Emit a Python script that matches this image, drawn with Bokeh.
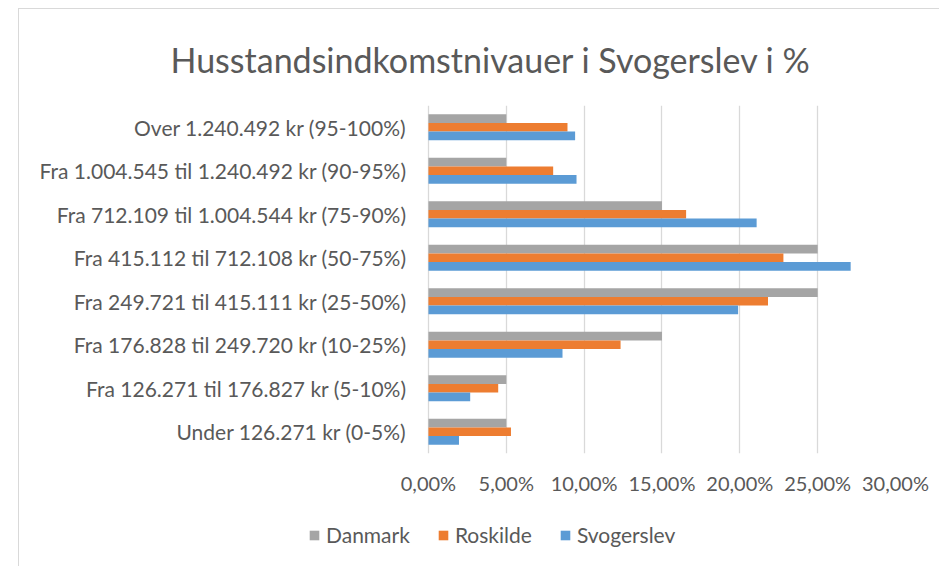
from bokeh.plotting import figure
from bokeh.models import (ColumnDataSource, FactorRange, Range1d, FixedTicker,
                          Legend, LegendItem)
from bokeh.core.properties import value
from bokeh.layouts import column
from bokeh.transform import dodge
from bokeh.embed import file_html
from bokeh.resources import INLINE

title_text = "Husstandsindkomstnivauer  i Svogerslev i %"
categories = [
    "Over 1.240.492 kr (95-100%)",
    "Fra 1.004.545 til 1.240.492 kr (90-95%)",
    "Fra 712.109 til 1.004.544 kr (75-90%)",
    "Fra 415.112 til 712.108 kr (50-75%)",
    "Fra 249.721 til 415.111 kr (25-50%)",
    "Fra 176.828 til 249.720 kr (10-25%)",
    "Fra 126.271 til 176.827 kr (5-10%)",
    "Under 126.271 kr (0-5%)",
]
danmark = [5.0, 5.0, 15.0, 25.0, 25.0, 15.0, 5.0, 5.0]
roskilde = [8.93, 8.01, 16.55, 22.80, 21.81, 12.34, 4.48, 5.30]
svogerslev = [9.42, 9.51, 21.08, 27.12, 19.89, 8.61, 2.68, 1.96]
series_names = ["Danmark", "Roskilde", "Svogerslev"]
series_cols = ["danmark", "roskilde", "svogerslev"]
tick_values = [0, 5, 10, 15, 20, 25, 30]
tick_labels = ["0,00%", "5,00%", "10,00%", "15,00%", "20,00%", "25,00%", "30,00%"]

FONT = "Lato"
TXT = "#595959"
colors = ["#A5A5A5", "#ED7D31", "#5B9BD5"]

source = ColumnDataSource(dict(cat=categories, zero=[0] * len(categories),
                               danmark=danmark, roskilde=roskilde,
                               svogerslev=svogerslev))

# frame spans the full chart width; the value axis starts at 0 at the
# position of the category label column's right side
p = figure(width=920, height=500, output_backend="svg", toolbar_location=None,
           y_range=FactorRange(factors=list(reversed(categories))),
           x_range=Range1d(-26.27, 30),
           y_axis_location=None,
           min_border_left=0, min_border_right=44,
           min_border_top=96, min_border_bottom=56)
p.outline_line_color = None
p.background_fill_color = "white"
p.border_fill_color = "white"

p.title.text = title_text
p.title.align = "left"
p.title.offset = 151
p.title.standoff = 52
p.title.text_font = FONT
p.title.text_font_size = "34px"
p.title.text_font_style = "normal"
p.title.text_color = TXT

for col, off, color in zip(series_cols, [0.2, 0.0, -0.2], colors):
    p.hbar(y=dodge("cat", off, range=p.y_range), right=col, left=0,
           height=0.2, source=source, fill_color=color, line_color=None)

# category labels, right-aligned just left of the value 0
p.text(x="zero", y="cat", text="cat", source=source, x_offset=-22,
       text_align="right", text_baseline="middle",
       text_font=value(FONT), text_font_size="21px", text_color=TXT)

p.xaxis.ticker = FixedTicker(ticks=tick_values)
p.xaxis.major_label_overrides = {v: l for v, l in zip(tick_values, tick_labels)}
p.xaxis.axis_line_color = None
p.xaxis.major_tick_line_color = None
p.xaxis.minor_tick_line_color = None
p.xaxis.major_label_text_font = FONT
p.xaxis.major_label_text_color = TXT
p.xaxis.major_label_text_font_size = "20px"
p.xaxis.major_label_standoff = 11
p.xgrid.ticker = FixedTicker(ticks=tick_values)
p.xgrid.grid_line_color = "#d9d9d9"
p.xgrid.grid_line_width = 1.3
p.ygrid.grid_line_color = None

# legend strip below the chart
leg = figure(width=920, height=57, output_backend="svg", toolbar_location=None,
             x_range=Range1d(0, 1), y_range=Range1d(0, 1),
             x_axis_location=None, y_axis_location=None,
             min_border_left=0, min_border_right=44,
             min_border_top=0, min_border_bottom=0)
leg.outline_line_color = None
leg.grid.visible = False
leg.background_fill_alpha = 0
leg.border_fill_alpha = 0
leg_renderers = [leg.hbar(y=col, right=col, left=col, height=0, source=source,
                          fill_color=c, line_color=None, visible=False)
                 for col, c in zip(series_cols, colors)]
legend = Legend(items=[LegendItem(label=n, renderers=[r])
                       for n, r in zip(series_names, leg_renderers)],
                orientation="horizontal", location=(289, 19),
                padding=0, margin=0, spacing=27,
                glyph_width=12, glyph_height=12, label_standoff=6,
                label_text_font=FONT, label_text_font_size="21px",
                label_text_color=TXT, border_line_color=None,
                background_fill_alpha=0)
leg.add_layout(legend, "center")

layout = column(p, leg, spacing=0)
layout.styles = {"margin-left": "18px", "margin-top": "8px",
                 "border": "1px solid #d9d9d9"}

open("out.html", "w").write(file_html(layout, INLINE))
